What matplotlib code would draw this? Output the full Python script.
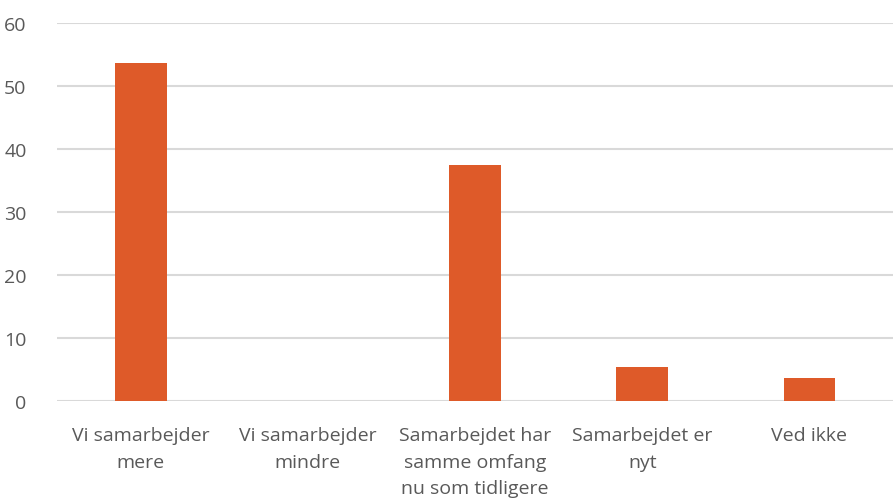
import matplotlib
matplotlib.use("Agg")
import matplotlib.pyplot as plt

# data
categories = ["Vi samarbejder\nmere", "Vi samarbejder\nmindre",
              "Samarbejdet har\nsamme omfang\nnu som tidligere",
              "Samarbejdet er\nnyt", "Ved ikke"]
values = [53.6, 0, 37.5, 5.4, 3.6]
yticks = [0, 10, 20, 30, 40, 50, 60]

plt.rcParams['font.family'] = ['Open Sans', 'DejaVu Sans']

fig = plt.figure(figsize=(8.93, 5.02), dpi=100)
ax = fig.add_axes([0.064, 0.199, 0.936, 0.753])

x = range(len(categories))
ax.bar(x, values, width=0.31, color="#DE5A29", zorder=3)

ax.set_xlim(-0.5, len(categories) - 0.5)
ax.set_ylim(0, 60)
ax.set_yticks(yticks)
ax.set_xticks(list(x))
ax.set_xticklabels(categories, fontsize=14, color="#595959", linespacing=1.6)
ax.tick_params(axis="y", labelsize=14, labelcolor="#595959", length=0, pad=22)
ax.tick_params(axis="x", length=0, pad=18)

ax.grid(axis="y", color="#D9D9D9", linewidth=1.5, zorder=0)
for s in ax.spines.values():
    s.set_visible(False)

fig.savefig("out.png", dpi=100)
